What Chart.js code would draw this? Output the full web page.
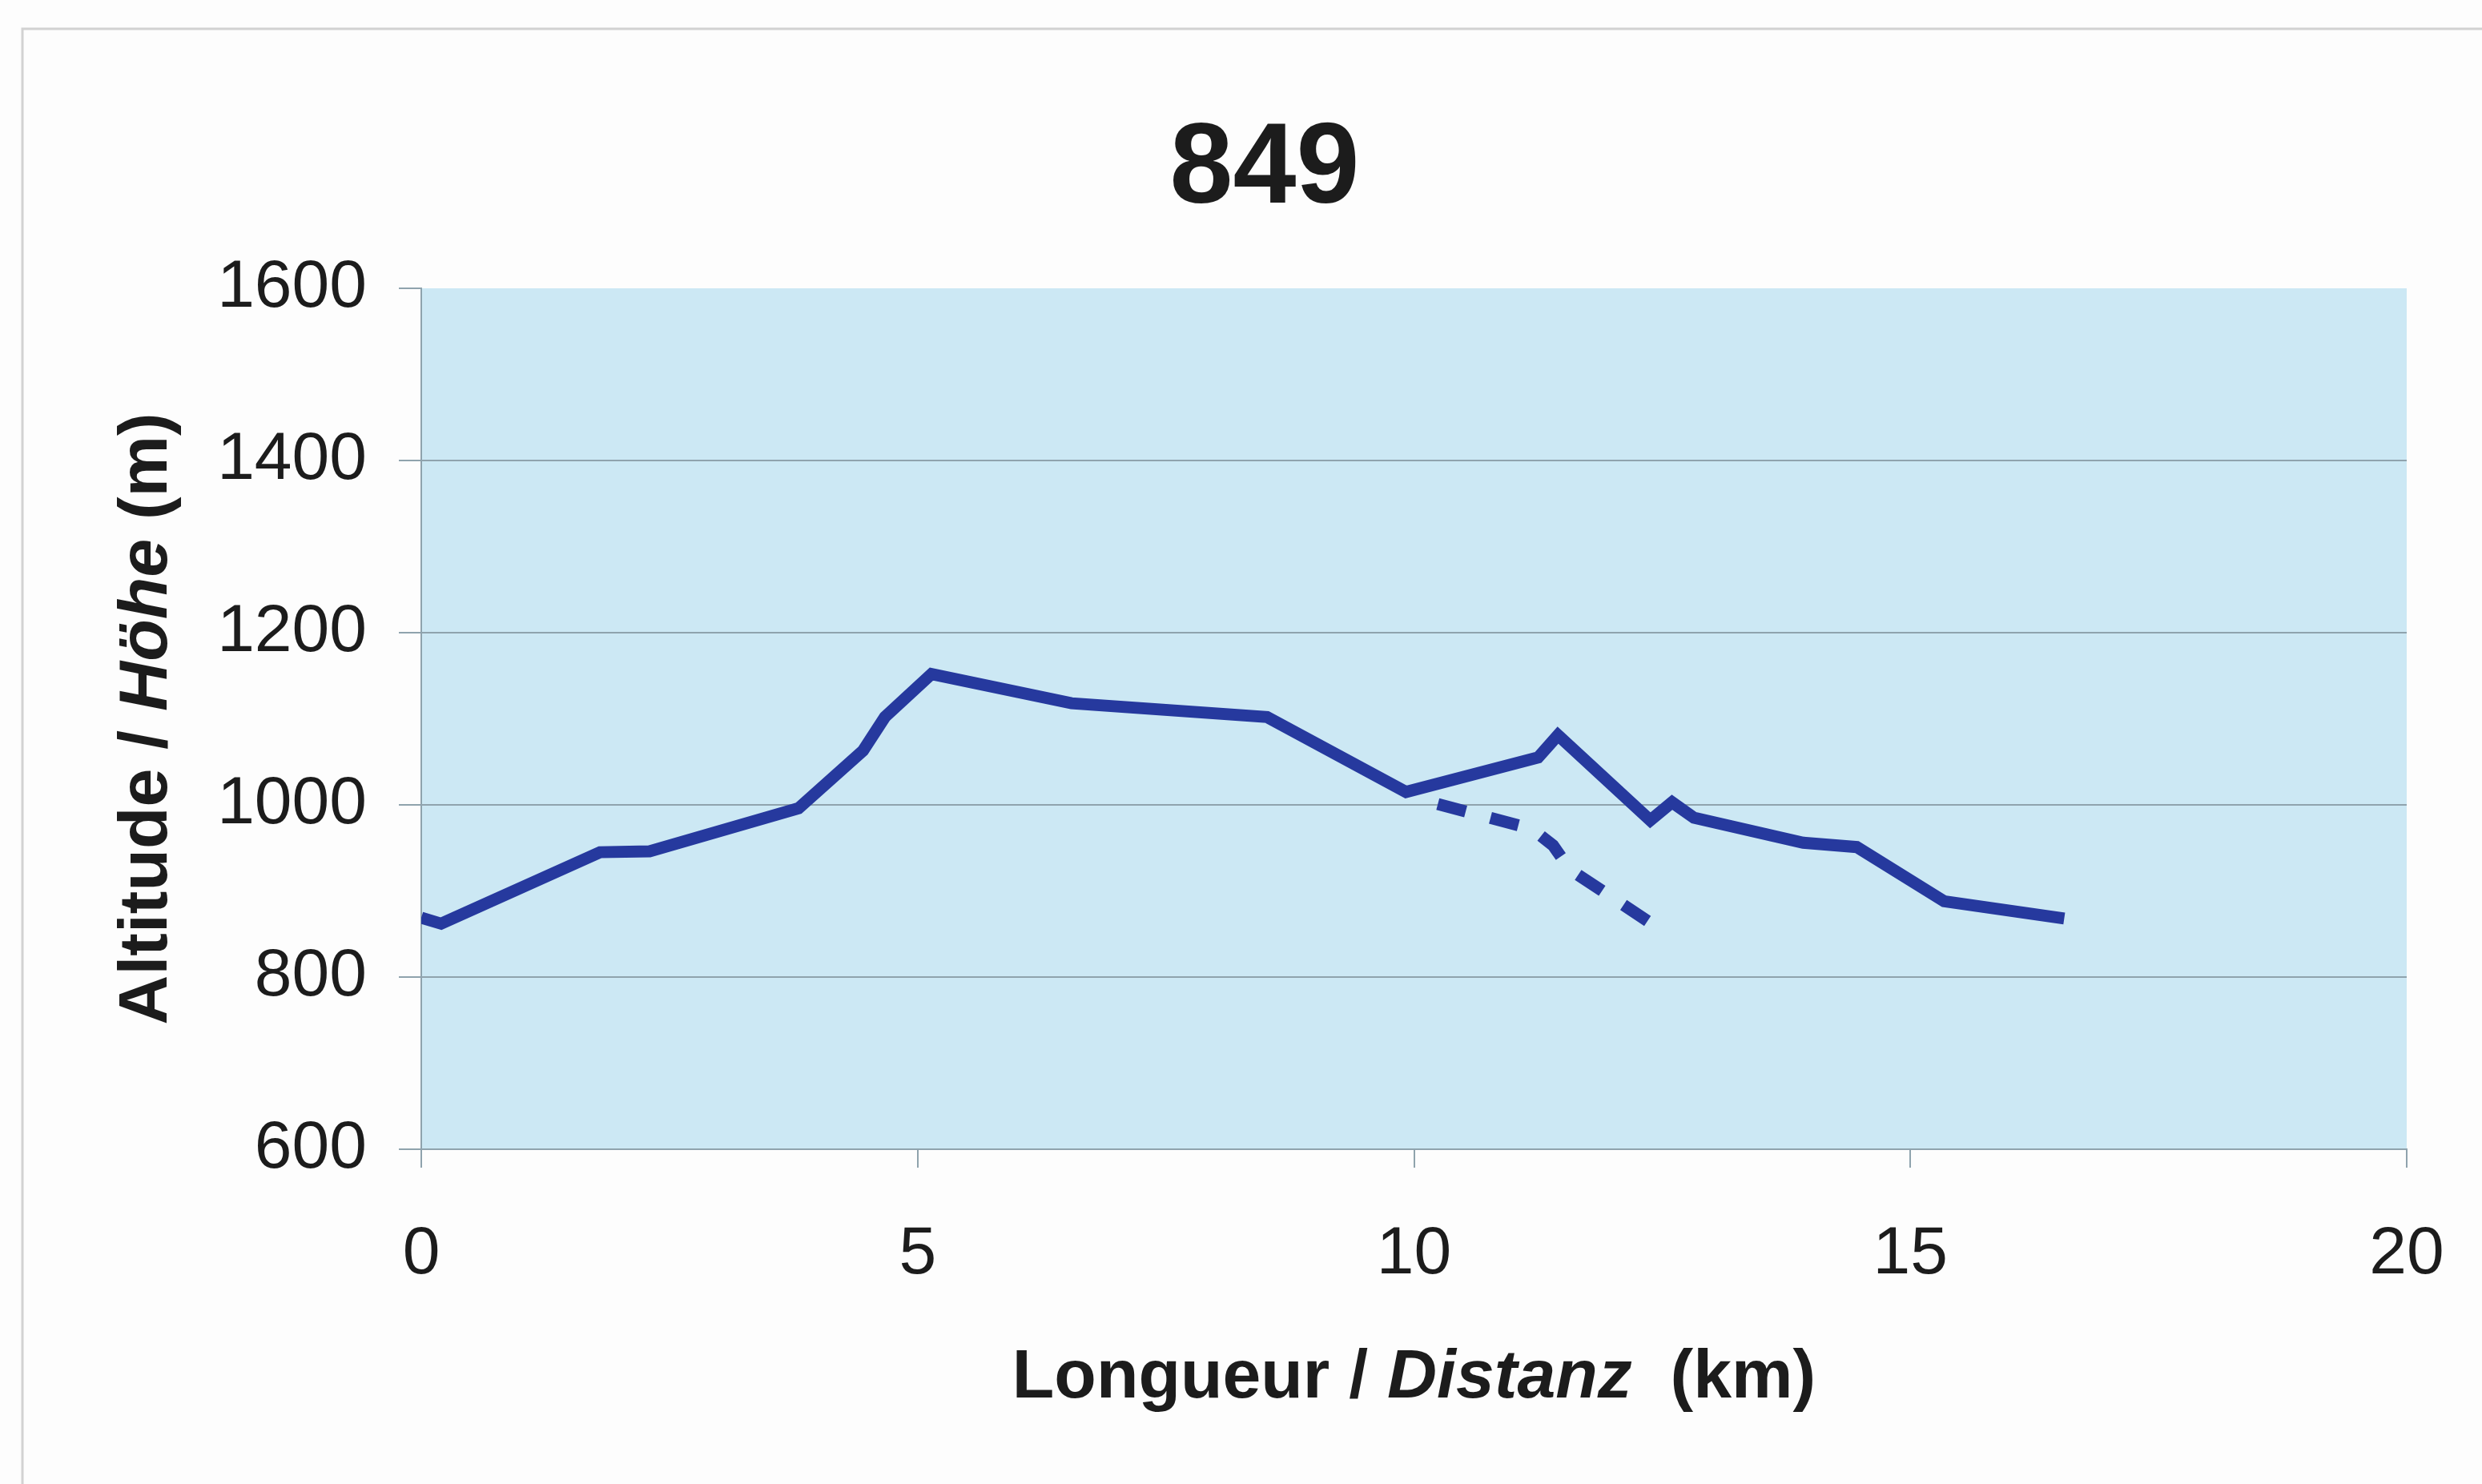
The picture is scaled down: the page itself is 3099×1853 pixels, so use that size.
<!DOCTYPE html>
<html>
<head>
<meta charset="utf-8">
<script src="https://cdn.jsdelivr.net/npm/chart.js@4"></script>
<style>
  html, body { margin: 0; padding: 0; background: #fdfdfd; overflow: hidden; }
  #wrap { width: 3099px; height: 1853px; position: relative; }
  canvas { display: block; }
</style>
</head>
<body>
<div id="wrap"><canvas id="profil"></canvas></div>
<script>
// profil principal (km / m)
const distKm = [0, 0.2, 1.8, 2.3, 3.8, 4.45, 4.67, 5.14, 6.55, 8.52, 9.92, 11.25, 11.45, 12.38, 12.6, 12.82, 13.92, 14.46, 15.34, 16.55];
const altitude = [869, 862, 945, 946, 996, 1063, 1102, 1152, 1118, 1102, 1015, 1055, 1081, 982, 1003, 985, 956, 951, 888, 868];
// variante en pointillé
const varDistKm = [10.24, 11.19, 11.4, 11.57, 12.46];
const varAltitude = [1001, 972, 953, 925, 857];

const xTicks = [0, 5, 10, 15, 20];
const yTicks = [600, 800, 1000, 1200, 1400, 1600];

const titre = '849';
const titreX = [['Longueur / ', ''], ['Distanz', 'italic '], ['  (km)', '']];
const titreY = [['Altitude / ', ''], ['Höhe', 'italic '], [' (m)', '']];

const BLEU = '#26399E';
const GRIS = '#8FA3AD';
const FONT = '"Liberation Sans", Arial, sans-serif';

function toPoints(xs, ys) {
    return xs.map((x, i) => ({ x: x, y: ys[i] }));
}

function drawMixed(ctx, parts, size) {
    let total = 0;
    parts.forEach(p => {
        ctx.font = p[1] + 'bold ' + size + 'px ' + FONT;
        total += ctx.measureText(p[0]).width;
    });
    let x = -total / 2;
    parts.forEach(p => {
        ctx.font = p[1] + 'bold ' + size + 'px ' + FONT;
        ctx.fillText(p[0], x, 0);
        x += ctx.measureText(p[0]).width;
    });
}

const decor = {
    id: 'decor',
    beforeDraw(chart) {
        const { ctx, chartArea } = chart;
        ctx.save();
        ctx.fillStyle = '#CCE8F4';
        ctx.fillRect(chartArea.left, chartArea.top, chartArea.right - chartArea.left, chartArea.bottom - chartArea.top);
        ctx.strokeStyle = '#d2d2d2';
        ctx.lineWidth = 3;
        ctx.strokeRect(28, 36, 3300, 3000);
        ctx.restore();
    },
    afterDraw(chart) {
        const { ctx, chartArea } = chart;
        ctx.save();
        ctx.fillStyle = '#1c1c1c';
        ctx.textBaseline = 'middle';
        ctx.textAlign = 'center';
        ctx.font = 'bold 142px ' + FONT;
        ctx.fillText(titre, 1579, 214);

        ctx.textAlign = 'left';
        ctx.translate((chartArea.left + chartArea.right) / 2, 1721);
        drawMixed(ctx, titreX, 86);
        ctx.restore();

        ctx.save();
        ctx.fillStyle = '#1c1c1c';
        ctx.textBaseline = 'middle';
        ctx.textAlign = 'left';
        ctx.translate(184, (chartArea.top + chartArea.bottom) / 2);
        ctx.rotate(-Math.PI / 2);
        drawMixed(ctx, titreY, 86);
        ctx.restore();
    }
};

new Chart(document.getElementById('profil'), {
    type: 'line',
    data: {
        datasets: [
            {
                data: toPoints(distKm, altitude),
                borderColor: BLEU,
                borderWidth: 15,
                pointRadius: 0,
                tension: 0,
                borderJoinStyle: 'miter'
            },
            {
                data: toPoints(varDistKm, varAltitude),
                borderColor: BLEU,
                borderWidth: 15,
                borderDash: [36, 32],
                pointRadius: 0,
                tension: 0
            }
        ]
    },
    options: {
        responsive: true,
        maintainAspectRatio: false,
        animation: false,
        layout: { padding: { left: 273, right: 94, top: 360, bottom: 218 } },
        plugins: {
            legend: { display: false },
            tooltip: { enabled: false },
            title: { display: false }
        },
        scales: {
            x: {
                type: 'linear',
                min: 0,
                max: 20,
                afterBuildTicks: s => { s.ticks = xTicks.map(v => ({ value: v })); },
                afterFit: s => { s.height = 200; s.paddingLeft = 0; s.paddingRight = 0; },
                ticks: { color: '#1c1c1c', font: { family: FONT, size: 84 }, padding: 58, callback: v => String(v) },
                grid: { drawOnChartArea: false, tickLength: 23, tickColor: GRIS, lineWidth: 2 },
                border: { display: true, color: GRIS, width: 2 }
            },
            y: {
                min: 600,
                max: 1600,
                afterBuildTicks: s => { s.ticks = yTicks.map(v => ({ value: v })); },
                afterFit: s => { s.width = 253; },
                ticks: { color: '#1c1c1c', font: { family: FONT, size: 84 }, padding: 40, callback: v => String(v) },
                grid: {
                    color: c => (c.tick && c.tick.value === 1600) ? 'rgba(0,0,0,0)' : GRIS,
                    tickColor: GRIS,
                    tickLength: 28,
                    lineWidth: 2
                },
                border: { display: true, color: GRIS, width: 2 }
            }
        }
    },
    plugins: [decor]
});
</script>
</body>
</html>
